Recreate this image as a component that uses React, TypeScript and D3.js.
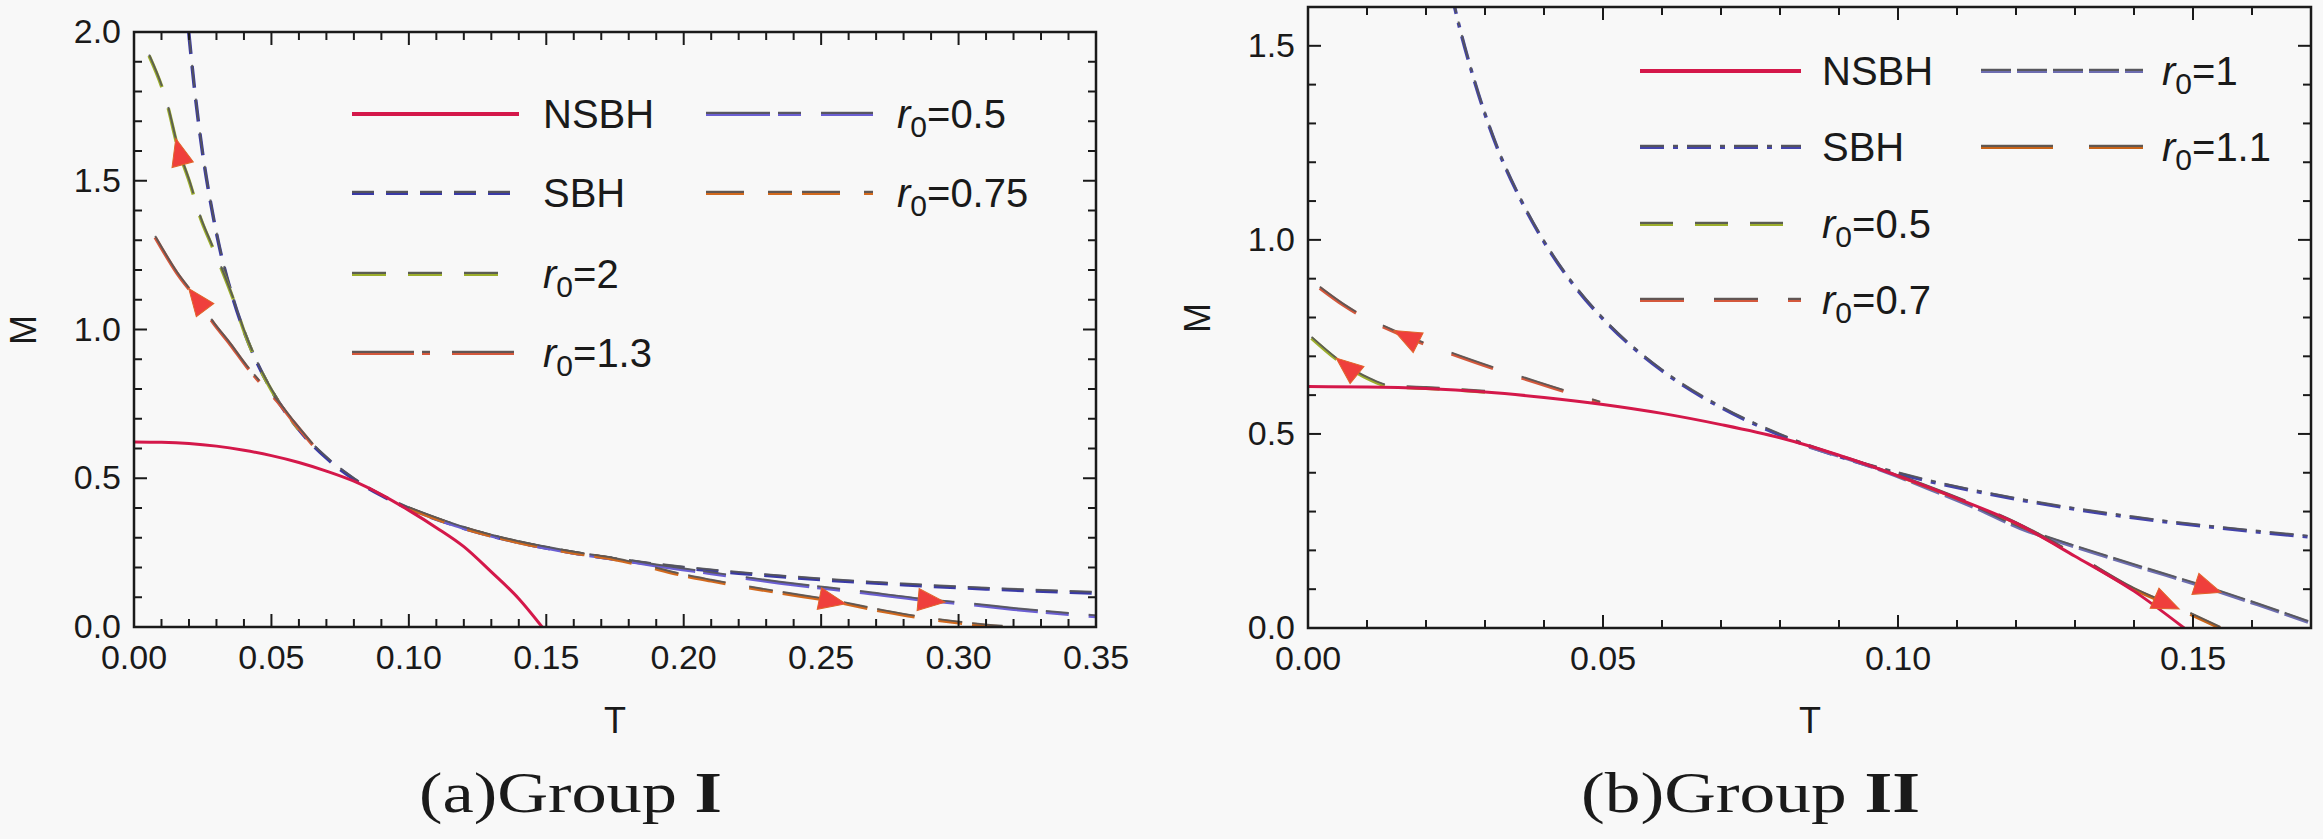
import { useEffect, useRef } from 'react';
import * as d3 from 'd3';

// NSBH branch (same curve in both panels)
const nsbhT = [0, 0.01, 0.02, 0.03, 0.04, 0.05, 0.06, 0.07, 0.08, 0.09, 0.10, 0.11, 0.12, 0.13, 0.14, 0.1485];
const nsbhM = [0.622, 0.621, 0.617, 0.608, 0.594, 0.576, 0.553, 0.524, 0.49, 0.445, 0.392, 0.334, 0.27, 0.185, 0.095, 0.0];

// SBH branch
const sbhT = [0.0199, 0.022, 0.025, 0.028, 0.032, 0.036, 0.04, 0.045, 0.05, 0.06, 0.07, 0.08, 0.09, 0.10, 0.12, 0.14, 0.16, 0.18, 0.20, 0.22, 0.25, 0.28, 0.31, 0.35];
const sbhM = [2.0, 1.81, 1.59, 1.42, 1.24, 1.105, 0.995, 0.884, 0.796, 0.663, 0.568, 0.497, 0.442, 0.398, 0.332, 0.284, 0.249, 0.221, 0.199, 0.181, 0.159, 0.142, 0.128, 0.114];

// Group I
const g1r2T = [0.0055, 0.012, 0.016, 0.0204, 0.024, 0.0284, 0.032, 0.036, 0.04, 0.045, 0.05, 0.06];
const g1r2M = [1.92, 1.76, 1.61, 1.49, 1.38, 1.28, 1.2, 1.105, 0.995, 0.884, 0.796, 0.663];
const g1r13T = [0.0077, 0.0156, 0.023, 0.029, 0.035, 0.041, 0.047, 0.052, 0.058, 0.065];
const g1r13M = [1.31, 1.19, 1.1, 1.02, 0.95, 0.875, 0.81, 0.76, 0.69, 0.612];
const g1r05T = [0.10, 0.12, 0.14, 0.16, 0.18, 0.19, 0.21, 0.235, 0.263, 0.29, 0.305, 0.32, 0.35];
const g1r05M = [0.398, 0.332, 0.284, 0.249, 0.221, 0.206, 0.18, 0.148, 0.118, 0.088, 0.075, 0.06, 0.035];
const g1r075T = [0.10, 0.12, 0.14, 0.16, 0.175, 0.188, 0.199, 0.21, 0.235, 0.254, 0.273, 0.287, 0.30, 0.316];
const g1r075M = [0.398, 0.332, 0.284, 0.249, 0.227, 0.2, 0.175, 0.155, 0.115, 0.087, 0.052, 0.03, 0.014, 0.0];

// Group II
const g2r05T = [0.0006, 0.0066, 0.0105, 0.0139, 0.02, 0.03];
const g2r05M = [0.747, 0.673, 0.64, 0.622, 0.618, 0.608];
const g2r07T = [0.002, 0.006, 0.0167, 0.024, 0.0337, 0.0415, 0.0495];
const g2r07M = [0.876, 0.832, 0.75, 0.708, 0.657, 0.619, 0.58];
const g2r1T = [0.085, 0.095, 0.105, 0.113, 0.1207, 0.128, 0.135, 0.145, 0.1525, 0.161, 0.1695];
const g2r1M = [0.466, 0.418, 0.36, 0.31, 0.257, 0.219, 0.185, 0.138, 0.103, 0.06, 0.015];
const g2r11T = [0.10, 0.11, 0.12, 0.13, 0.14, 0.1475, 0.1546];
const g2r11M = [0.392, 0.334, 0.27, 0.188, 0.1, 0.05, 0.0];

const zip = (t, m) => t.map((v, i) => [v, m[i]]);

const CRIMSON = '#d4184a';
const GRAY = '#555555';

const panels = [
  {
    x0: 134, x1: 1096, y0: 32, y1: 627, xMax: 0.35, yMax: 2.0,
    mLabel: [24, 330], tLabel: [615, 733],
    caption: { x: 419, w: 303, roman: 'I' },
    series: [
      { key: 'nsbh', label: 'NSBH', pts: zip(nsbhT, nsbhM), color: CRIMSON, dash: null },
      { key: 'sbh', label: 'SBH', pts: zip(sbhT, sbhM), color: '#3a3aa6', dash: '22,12' },
      { key: 'r2', r0: '2', pts: zip(g1r2T, g1r2M), color: '#9cae2c', dash: '34,22' },
      { key: 'r13', r0: '1.3', pts: zip(g1r13T, g1r13M), color: '#d4583c', dash: '62,8,8,22' },
      { key: 'r05', r0: '0.5', pts: zip(g1r05T, g1r05M), color: '#6b5fd3', dash: '64,8,23,20' },
      { key: 'r075', r0: '0.75', pts: zip(g1r075T, g1r075M), color: '#d2691e', dash: '38,24,24,10' },
    ],
    legend: [
      { key: 'nsbh', col: 0, row: 0 }, { key: 'sbh', col: 0, row: 1 },
      { key: 'r2', col: 0, row: 2 }, { key: 'r13', col: 0, row: 3 },
      { key: 'r05', col: 1, row: 0 }, { key: 'r075', col: 1, row: 1 },
    ],
    legendCols: [[352, 519, 543], [706, 873, 897]],
    legendRows: [114, 193, 274, 353],
    arrows: [
      { key: 'r2', t: 0.0165, dir: -1 }, { key: 'r13', t: 0.023, dir: -1 },
      { key: 'r075', t: 0.254, dir: 1 }, { key: 'r05', t: 0.29, dir: 1 },
    ],
  },
  {
    x0: 1308, x1: 2311, y0: 7, y1: 628, xMax: 0.17, yMax: 1.6,
    mLabel: [1198, 318], tLabel: [1810, 733],
    caption: { x: 1581, w: 339, roman: 'II' },
    series: [
      { key: 'nsbh', label: 'NSBH', pts: zip(nsbhT, nsbhM), color: CRIMSON, dash: null },
      { key: 'sbh', label: 'SBH', pts: zip(sbhT, sbhM), color: '#4444aa', dash: '24,9,5,9' },
      { key: 'r05', r0: '0.5', pts: zip(g2r05T, g2r05M), color: '#9cae2c', dash: '33,22' },
      { key: 'r07', r0: '0.7', pts: zip(g2r07T, g2r07M), color: '#d4583c', dash: '44,30' },
      { key: 'r1', r0: '1', pts: zip(g2r1T, g2r1M), color: '#6d6db0', dash: '30,6' },
      { key: 'r11', r0: '1.1', pts: zip(g2r11T, g2r11M), color: '#c86418', dash: '72,36' },
    ],
    legend: [
      { key: 'nsbh', col: 0, row: 0 }, { key: 'sbh', col: 0, row: 1 },
      { key: 'r05', col: 0, row: 2 }, { key: 'r07', col: 0, row: 3 },
      { key: 'r1', col: 1, row: 0 }, { key: 'r11', col: 1, row: 1 },
    ],
    legendCols: [[1640, 1801, 1822], [1981, 2143, 2162]],
    legendRows: [71, 147, 224, 300],
    arrows: [
      { key: 'r05', t: 0.0066, dir: -1 }, { key: 'r07', t: 0.0167, dir: -1 },
      { key: 'r11', t: 0.1455, dir: 1 }, { key: 'r1', t: 0.1525, dir: 1 },
    ],
  },
];

const SANS = '"Liberation Sans", Arial, sans-serif';
const SERIF = '"Liberation Serif", "DejaVu Serif", serif';

function drawStroke(g, d, s, width) {
  if (!s.dash) {
    g.append('path').attr('d', d).attr('fill', 'none').attr('stroke', s.color)
      .attr('stroke-width', width);
    return;
  }
  g.append('path').attr('d', d).attr('fill', 'none').attr('stroke', s.color)
    .attr('stroke-width', width).attr('stroke-dasharray', s.dash);
  g.append('path').attr('d', d).attr('fill', 'none').attr('stroke', GRAY)
    .attr('stroke-width', width * 0.55).attr('stroke-dasharray', s.dash)
    .attr('transform', 'translate(0,-1.2)').attr('opacity', 0.9);
}

function drawPanel(svg, p, idx) {
  const x = d3.scaleLinear().domain([0, p.xMax]).range([p.x0, p.x1]);
  const y = d3.scaleLinear().domain([0, p.yMax]).range([p.y1, p.y0]);
  const g = svg.append('g');

  const clipId = `clip-${idx}`;
  svg.append('clipPath').attr('id', clipId).append('rect')
    .attr('x', p.x0).attr('y', p.y0).attr('width', p.x1 - p.x0).attr('height', p.y1 - p.y0);

  // curves
  const line = d3.line().x(d => x(d[0])).y(d => y(d[1])).curve(d3.curveMonotoneX);
  const plot = g.append('g').attr('clip-path', `url(#${clipId})`);
  const order = ['sbh', ...p.series.filter(s => s.key !== 'sbh' && s.key !== 'nsbh').map(s => s.key), 'nsbh'];
  order.forEach(k => {
    const s = p.series.find(q => q.key === k);
    drawStroke(plot, line(s.pts), s, s.dash ? 3.5 : 3);
  });

  // arrows
  p.arrows.forEach(a => {
    const s = p.series.find(q => q.key === a.key);
    const f = d3.scaleLinear().domain(s.pts.map(d => d[0])).range(s.pts.map(d => d[1]));
    const px = x(a.t), py = y(f(a.t));
    const qx = x(a.t + a.dir * 0.002), qy = y(f(a.t + a.dir * 0.002));
    const ang = Math.atan2(qy - py, qx - px) * 180 / Math.PI;
    g.append('path').attr('d', 'M14,0 L-13,-11 L-13,11 Z')
      .attr('fill', '#ef3f3c').attr('stroke', '#e0642a').attr('stroke-width', 1)
      .attr('transform', `translate(${px},${py}) rotate(${ang})`);
  });

  // frame
  g.append('rect').attr('x', p.x0).attr('y', p.y0).attr('width', p.x1 - p.x0).attr('height', p.y1 - p.y0)
    .attr('fill', 'none').attr('stroke', '#1a1a1a').attr('stroke-width', 2.5);

  const xMinor = d3.range(0, p.xMax + 1e-9, 0.01);
  const yMinor = d3.range(0, p.yMax + 1e-9, 0.1);
  const isMajor = (v, step) => Math.abs(v / step - Math.round(v / step)) < 1e-6;
  const ticks = g.append('g').attr('stroke', '#1a1a1a').attr('stroke-width', 2);
  xMinor.forEach(v => {
    const L = isMajor(v, 0.05) ? 13 : 8;
    ticks.append('line').attr('x1', x(v)).attr('x2', x(v)).attr('y1', p.y1).attr('y2', p.y1 - L);
    ticks.append('line').attr('x1', x(v)).attr('x2', x(v)).attr('y1', p.y0).attr('y2', p.y0 + L);
  });
  yMinor.forEach(v => {
    const L = isMajor(v, 0.5) ? 13 : 8;
    ticks.append('line').attr('y1', y(v)).attr('y2', y(v)).attr('x1', p.x0).attr('x2', p.x0 + L);
    ticks.append('line').attr('y1', y(v)).attr('y2', y(v)).attr('x1', p.x1).attr('x2', p.x1 - L);
  });

  const fx = d3.format('.2f'), fy = d3.format('.1f');
  xMinor.filter(v => isMajor(v, 0.05)).forEach(v => {
    g.append('text').attr('x', x(v)).attr('y', p.y1 + 42).attr('text-anchor', 'middle')
      .attr('font-family', SANS).attr('font-size', 34).attr('fill', '#1a1a1a').text(fx(v));
  });
  yMinor.filter(v => isMajor(v, 0.5)).forEach(v => {
    g.append('text').attr('x', p.x0 - 13).attr('y', y(v) + 11).attr('text-anchor', 'end')
      .attr('font-family', SANS).attr('font-size', 34).attr('fill', '#1a1a1a').text(fy(v));
  });

  // axis labels
  g.append('text').attr('transform', `translate(${p.mLabel[0] + 12},${p.mLabel[1]}) rotate(-90)`)
    .attr('text-anchor', 'middle').attr('font-family', SANS).attr('font-size', 36).attr('fill', '#1a1a1a').text('M');
  g.append('text').attr('x', p.tLabel[0]).attr('y', p.tLabel[1]).attr('text-anchor', 'middle')
    .attr('font-family', SANS).attr('font-size', 36).attr('fill', '#1a1a1a').text('T');

  // legend
  p.legend.forEach(l => {
    const s = p.series.find(q => q.key === l.key);
    const [lx1, lx2, tx] = p.legendCols[l.col];
    const ly = p.legendRows[l.row];
    drawStroke(g, `M${lx1},${ly}L${lx2},${ly}`, s, 4);
    const t = g.append('text').attr('x', tx).attr('y', ly + 14)
      .attr('font-family', SANS).attr('font-size', 40).attr('fill', '#1a1a1a');
    if (s.r0) {
      t.append('tspan').attr('font-style', 'italic').text('r');
      t.append('tspan').attr('font-size', 30).attr('dy', 9).text('0');
      t.append('tspan').attr('dy', -9).text(`=${s.r0}`);
    } else {
      t.text(s.label);
    }
  });

  // caption
  const c = g.append('text').attr('x', p.caption.x).attr('y', 812)
    .attr('font-family', SERIF).attr('font-size', 58).attr('fill', '#1a1a1a')
    .attr('textLength', p.caption.w).attr('lengthAdjust', 'spacingAndGlyphs');
  c.append('tspan').text(`(${idx === 0 ? 'a' : 'b'})Group `);
  c.append('tspan').attr('font-weight', 'bold').text(p.caption.roman);
}

export default function App() {
  const svgRef = useRef(null);

  useEffect(() => {
    const svg = d3.select(svgRef.current);
    svg.selectAll('*').remove();
    svg.append('rect').attr('width', 2323).attr('height', 839).attr('fill', '#f8f8f8');
    panels.forEach((p, i) => drawPanel(svg, p, i));
    return () => { svg.selectAll('*').remove(); };
  }, []);

  return (
    <div style={{ position: 'absolute', left: 0, top: 0, width: 2323, height: 839, background: '#f8f8f8' }}>
      <svg ref={svgRef} width={2323} height={839}></svg>
    </div>
  );
}
